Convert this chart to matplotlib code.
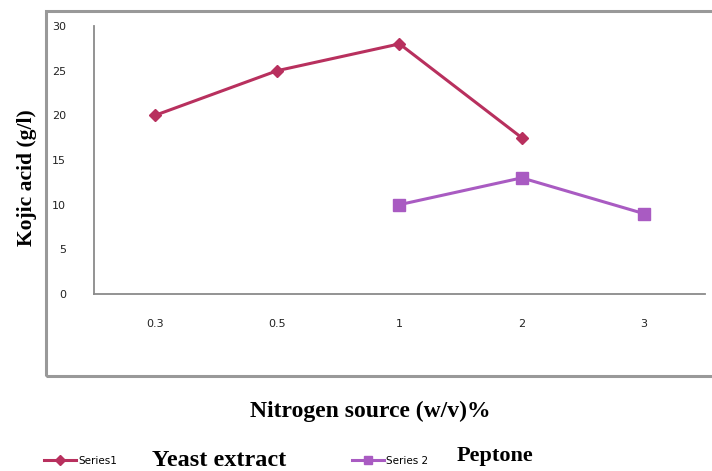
import matplotlib
matplotlib.use('Agg')
import matplotlib.pyplot as plt
from matplotlib.patches import Rectangle

# Data
categories = ['0.3', '0.5', '1', '2', '3']
series1_idx = [0, 1, 2, 3]
series1_vals = [20, 25, 28, 17.5]
series2_idx = [2, 3, 4]
series2_vals = [10, 13, 9]
y_ticks = [0, 5, 10, 15, 20, 25, 30]

c1 = '#B8305E'
c2 = '#A95BC2'
serif = ['Liberation Serif', 'DejaVu Serif']

fig = plt.figure(figsize=(7.12, 4.71), dpi=100)

# Outer chart frame (runs off the right edge like the original)
fig.patches.append(Rectangle((46 / 712, 1 - 376 / 471), 700 / 712, 365 / 471,
                             transform=fig.transFigure, fill=False,
                             edgecolor='#999999', linewidth=2.2))

ax = fig.add_axes([94 / 712, 1 - 294 / 471, 611 / 712, 268 / 471])
ax.plot(series1_idx, series1_vals, color=c1, linewidth=2.2, marker='D', markersize=6,
        label='Series1')
ax.plot(series2_idx, series2_vals, color=c2, linewidth=2.2, marker='s', markersize=8,
        label='Series 2')

ax.set_xlim(-0.5, len(categories) - 0.5)
ax.set_ylim(0, 30)
ax.set_xticks(range(len(categories)))
ax.set_xticklabels(categories)
ax.set_yticks(y_ticks)
ax.tick_params(length=0, labelsize=8, colors='#222222')
ax.tick_params(axis='x', pad=18)
ax.tick_params(axis='y', pad=20)
for s in ['top', 'right']:
    ax.spines[s].set_visible(False)
for s in ['left', 'bottom']:
    ax.spines[s].set_color('#8a8a8a')
    ax.spines[s].set_linewidth(1.3)

ax.set_ylabel('Kojic acid (g/l)', fontsize=15.5, fontweight='bold', family=serif)
ax.yaxis.set_label_coords(-0.094, 0.433)
fig.text(370 / 712, 1 - 411 / 471, 'Nitrogen source (w/v)%', fontsize=17,
         fontweight='bold', family=serif, ha='center', va='center')

leg = fig.legend(loc='center left', bbox_to_anchor=(44 / 712, 1 - 461 / 471), ncol=2,
                 frameon=False, fontsize=7.5, handlelength=3.1, handletextpad=0.2,
                 columnspacing=22.5, borderpad=0, borderaxespad=0, markerscale=0.8)
fig.text(152 / 712, 1 - 460 / 471, 'Yeast extract', fontsize=17.5, fontweight='bold',
         family=serif, ha='left', va='center')
fig.text(457 / 712, 1 - 456 / 471, 'Peptone', fontsize=16, fontweight='bold',
         family=serif, ha='left', va='center')

fig.savefig('out.png', dpi=100)
